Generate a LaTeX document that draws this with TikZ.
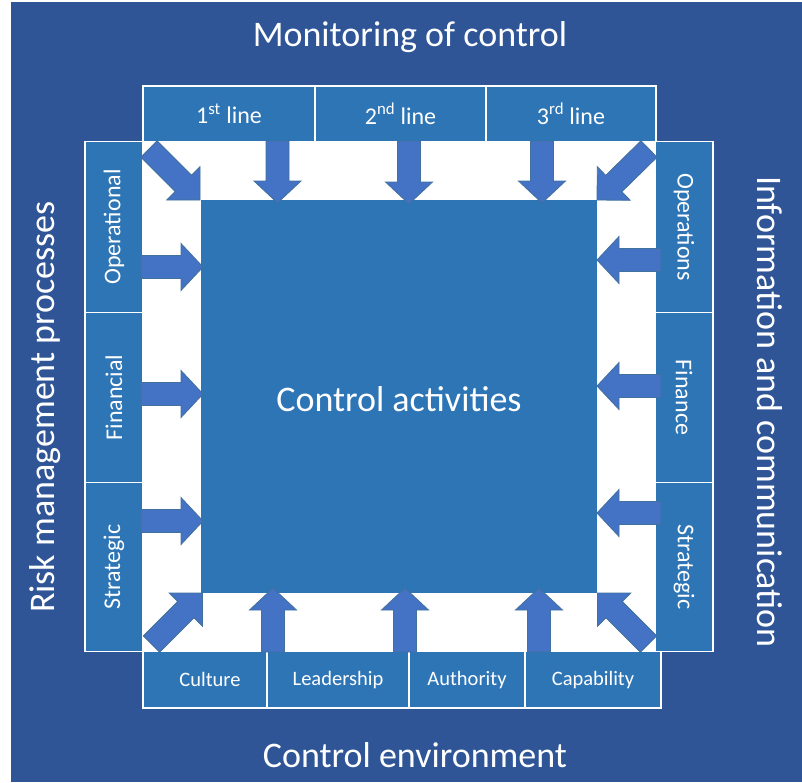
\documentclass[tikz,border=0pt]{standalone}
\usepackage{fontspec}
\setmainfont{Carlito}
\usetikzlibrary{calc}
\definecolor{bgblue}{HTML}{2F5597}
\definecolor{boxblue}{HTML}{2E75B6}
\definecolor{arrblue}{HTML}{4472C4}
\definecolor{arredge}{HTML}{41719C}
% block arrow from tail #1 to tip #2, head length #3
\newcommand{\blockarrow}[3]{\coordinate (hb) at ($(#2)!#3!(#1)$);
\filldraw[blockarr] ($(#1)!11.5pt!90:(#2)$) -- ($(hb)!11.5pt!-90:(#1)$) -- ($(hb)!23.5pt!-90:(#1)$) -- (#2) -- ($(hb)!23.5pt!90:(#1)$) -- ($(hb)!11.5pt!90:(#1)$) -- ($(#1)!11.5pt!-90:(#2)$) -- cycle;}
\begin{document}
\begin{tikzpicture}
[x=1pt,y=-1pt,
box/.style={draw=white,line width=1.5pt,fill=boxblue,text=white,inner sep=0pt,font=\fontsize{24}{28}\selectfont},
smallbox/.style={box,font=\fontsize{20.5}{24}\selectfont},
title/.style={text=white,inner sep=0pt,font=\fontsize{36}{42}\selectfont},
blockarr/.style={fill=arrblue,draw=arredge,line width=0.8pt,line join=miter}]
\useasboundingbox (0,0) rectangle (802,782);
\fill[bgblue] (11,2) rectangle (802,782);
\fill[white] (143,141) rectangle (655,651);
\node[fill=boxblue,minimum width=396,minimum height=393,inner sep=0pt] (ctrl) at (399,396.5) {};
\node[title] (ctrltxt) at (399,399) {Control activities};
% top: monitoring
\node[box,minimum width=172,minimum height=55.5] (line1) at (229,113.75) {1\textsuperscript{st} line};
\node[box,minimum width=171,minimum height=55.5] (line2) at (400.5,113.75) {2\textsuperscript{nd} line};
\node[box,minimum width=170,minimum height=55.5] (line3) at (571,113.75) {3\textsuperscript{rd} line};
% left: risk
\node[box,minimum width=58,minimum height=171] (risk1) at (114,227) {\rotatebox{90}{Operational}};
\node[box,minimum width=58,minimum height=170] (risk2) at (114,397.5) {\rotatebox{90}{Financial}};
\node[box,minimum width=58,minimum height=169] (risk3) at (114,567) {\rotatebox{90}{Strategic}};
% right: information
\node[box,minimum width=58,minimum height=171] (info1) at (684,227) {\rotatebox{-90}{Operations}};
\node[box,minimum width=58,minimum height=170] (info2) at (684,397.5) {\rotatebox{-90}{Finance}};
\node[box,minimum width=58,minimum height=169] (info3) at (684,567) {\rotatebox{-90}{Strategic}};
% bottom: environment
\node[smallbox,minimum width=124,minimum height=56.5] (env1) at (205,679.75) {\hspace{10pt}Culture};
\node[smallbox,minimum width=142,minimum height=56.5] (env2) at (338,679.75) {Leadership};
\node[smallbox,minimum width=116,minimum height=56.5] (env3) at (467,679.75) {Authority\hspace{8pt}};
\node[smallbox,minimum width=136,minimum height=56.5] (env4) at (593,679.75) {Capability};
% titles
\node[title] (mon) at (410,37) {Monitoring of control};
\node[title] (env) at (415,755) {Control environment};
\node[title] (risk) at (45,407) {\rotatebox{90}{Risk management processes}};
\node[title] (info) at (770,412) {\rotatebox{-90}{Information and communication}};
% arrow ends
\coordinate (t1) at (277.5,141); \coordinate (h1) at (277.5,203);
\coordinate (t2) at (409,141); \coordinate (h2) at (409,204);
\coordinate (t3) at (542,141); \coordinate (h3) at (542,203);
\coordinate (l1) at (141,267); \coordinate (k1) at (203,267);
\coordinate (l2) at (141,394); \coordinate (k2) at (203,394);
\coordinate (l3) at (141,521); \coordinate (k3) at (203,521);
\coordinate (r1) at (661,260); \coordinate (q1) at (597,260);
\coordinate (r2) at (661,386); \coordinate (q2) at (597,386);
\coordinate (r3) at (661,513); \coordinate (q3) at (597,513);
\coordinate (b1) at (273,652); \coordinate (c1) at (273,588);
\coordinate (b2) at (405,652); \coordinate (c2) at (405,588);
\coordinate (b3) at (539,652); \coordinate (c3) at (539,588);
\coordinate (d1) at (149,149); \coordinate (e1) at (200,200);
\coordinate (d2) at (649,149); \coordinate (e2) at (597,200);
\coordinate (d3) at (151.5,644); \coordinate (e3) at (202.5,593);
\coordinate (d4) at (648.5,644); \coordinate (e4) at (597.5,593);
% arrows
\blockarrow{t1}{h1}{22pt} \blockarrow{t2}{h2}{22pt} \blockarrow{t3}{h3}{22pt}
\blockarrow{l1}{k1}{22pt} \blockarrow{l2}{k2}{22pt} \blockarrow{l3}{k3}{22pt}
\blockarrow{r1}{q1}{22pt} \blockarrow{r2}{q2}{22pt} \blockarrow{r3}{q3}{22pt}
\blockarrow{b1}{c1}{22pt} \blockarrow{b2}{c2}{22pt} \blockarrow{b3}{c3}{22pt}
\blockarrow{d1}{e1}{23.5pt} \blockarrow{d2}{e2}{23.5pt} \blockarrow{d3}{e3}{23.5pt} \blockarrow{d4}{e4}{23.5pt}
\end{tikzpicture}
\end{document}
